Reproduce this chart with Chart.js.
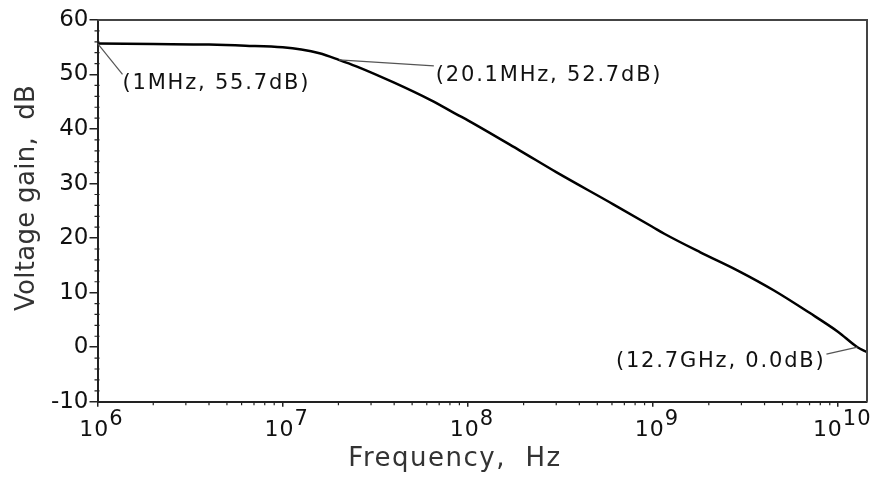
<!DOCTYPE html>
<html><head><meta charset="utf-8">
<script src="https://cdn.jsdelivr.net/npm/chart.js@4/dist/chart.umd.min.js"></script>
<style>html,body{margin:0;padding:0;background:#fff}#wrap{width:877px;height:477px;position:relative}</style>
</head><body><div id="wrap"><canvas id="c" width="877" height="477"></canvas></div>
<script>
// ---- data ----
const freqHz = [1e6, 2e6, 4e6, 6.3e6, 1e7, 1.26e7, 1.58e7, 2.01e7, 2.5e7, 4e7, 6.3e7, 8.7e7, 1e8, 1.9e8, 3e8, 6.1e8, 1e9, 1.15e9, 1.8e9, 2.85e9, 4.5e9, 7e9, 1e10, 1.27e10, 1.43e10];
const gainDb = [55.7, 55.6, 55.5, 55.3, 55.0, 54.6, 53.9, 52.7, 51.5, 48.5, 45.3, 42.7, 41.6, 36.1, 32.1, 26.2, 22.0, 20.8, 17.4, 14.1, 10.4, 6.3, 2.8, 0.0, -0.9];
const xDecades = [1e6, 1e7, 1e8, 1e9, 1e10];
const xDecadeExp = ['6', '7', '8', '9', '10'];
const yTicks = [-10, 0, 10, 20, 30, 40, 50, 60];
const annFreq = [1e6, 20.1e6, 12.7e9];
const annGain = [55.7, 52.7, 0.0];
const annText = ['(1MHz, 55.7dB)', '(20.1MHz, 52.7dB)', '(12.7GHz, 0.0dB)'];
const xTitle = 'Frequency,  Hz';
const yTitle = 'Voltage gain,  dB';
const xMin = 1e6, xMax = 1.43e10, yMin = -10, yMax = 60;

// ---- style / layout (not data) ----
const FONT = '"DejaVu Sans", Verdana, sans-serif';
const annLayout = [
  {dx: 25, dy: 40, align: 'left', lx: 25, ly: 31},
  {dx: 97, dy: 16, align: 'left', lx: 95, ly: 6},
  {dx: -32, dy: 14, align: 'right', lx: -31, ly: 7}
];

const decor = {
  id: 'decor',
  afterDraw(chart) {
    const ctx = chart.ctx, xs = chart.scales.x, ys = chart.scales.y, a = chart.chartArea;
    ctx.save();
    // top and right frame
    ctx.strokeStyle = '#444'; ctx.lineWidth = 2;
    ctx.beginPath();
    ctx.moveTo(a.left, a.top); ctx.lineTo(a.right, a.top); ctx.lineTo(a.right, a.bottom);
    ctx.stroke();
    // minor ticks
    ctx.strokeStyle = '#222'; ctx.lineWidth = 1.2;
    ctx.beginPath();
    for (let d = 6; d <= 10; d++) {
      for (let m = 2; m <= 9; m++) {
        const v = m * Math.pow(10, d);
        if (v > xMax) break;
        const px = xs.getPixelForValue(v);
        ctx.moveTo(px, a.bottom); ctx.lineTo(px, a.bottom + 3.5);
      }
    }
    for (let v = yMin; v <= yMax; v += 2) {
      if (v % 10 === 0) continue;
      const py = ys.getPixelForValue(v);
      ctx.moveTo(a.left - 3, py); ctx.lineTo(a.left + 2, py);
    }
    ctx.stroke();
    // x decade labels with superscript
    ctx.fillStyle = '#111';
    ctx.textBaseline = 'alphabetic'; ctx.textAlign = 'left';
    xDecades.forEach((v, i) => {
      const px = xs.getPixelForValue(v);
      ctx.letterSpacing = '1px';
      ctx.font = '22px ' + FONT;
      const wb = ctx.measureText('10').width;
      ctx.font = '21px ' + FONT;
      const we = ctx.measureText(xDecadeExp[i]).width;
      const x0 = px + 4 - (wb + we) / 2;
      ctx.font = '22px ' + FONT;
      ctx.fillText('10', x0, 436);
      ctx.font = '21px ' + FONT;
      ctx.fillText(xDecadeExp[i], x0 + wb, 425);
    });
    // annotations
    annFreq.forEach((f, i) => {
      const px = xs.getPixelForValue(f), py = ys.getPixelForValue(annGain[i]);
      const L = annLayout[i];
      ctx.strokeStyle = '#555'; ctx.lineWidth = 1.2;
      ctx.beginPath(); ctx.moveTo(px, py); ctx.lineTo(px + L.lx, py + L.ly); ctx.stroke();
      ctx.font = '21px ' + FONT; ctx.letterSpacing = '1.8px';
      ctx.fillStyle = '#111'; ctx.textAlign = L.align; ctx.textBaseline = 'middle';
      ctx.fillText(annText[i], px + L.dx, py + L.dy);
    });
    // axis titles
    ctx.fillStyle = '#333'; ctx.font = '26px ' + FONT;
    ctx.textAlign = 'center'; ctx.textBaseline = 'middle';
    ctx.letterSpacing = '1.5px';
    ctx.fillText(xTitle, 455, 459);
    ctx.letterSpacing = '0.3px';
    ctx.translate(27, 198); ctx.rotate(-Math.PI / 2);
    ctx.fillText(yTitle, 0, 0);
    ctx.restore();
  }
};

new Chart(document.getElementById('c'), {
  type: 'line',
  data: {
    datasets: [{
      data: freqHz.map((f, i) => ({x: f, y: gainDb[i]})),
      borderColor: '#000', borderWidth: 2.5, pointRadius: 0,
      cubicInterpolationMode: 'monotone', fill: false
    }]
  },
  options: {
    responsive: false, animation: false, devicePixelRatio: 1,
    layout: {padding: {top: 20, right: 10, left: 0, bottom: 0}},
    plugins: {legend: {display: false}, tooltip: {enabled: false}, title: {display: false}},
    scales: {
      x: {
        type: 'logarithmic', min: xMin, max: xMax,
        afterBuildTicks: s => { s.ticks = xDecades.map(v => ({value: v})); },
        afterFit: s => { s.height = 75.3; },
        ticks: {display: false},
        grid: {drawOnChartArea: false, drawTicks: true, tickLength: 5, color: '#222', lineWidth: 1.5},
        border: {display: true, color: '#222', width: 2}
      },
      y: {
        min: yMin, max: yMax,
        afterBuildTicks: s => { s.ticks = yTicks.map(v => ({value: v})); },
        afterFit: s => { s.width = 97.5; },
        ticks: {color: '#111', font: {family: FONT, size: 23}, padding: 1},
        grid: {drawOnChartArea: false, drawTicks: true, tickLength: 8, color: '#222', lineWidth: 1.5},
        border: {display: true, color: '#222', width: 2}
      }
    }
  },
  plugins: [decor]
});
</script>
</body></html>
